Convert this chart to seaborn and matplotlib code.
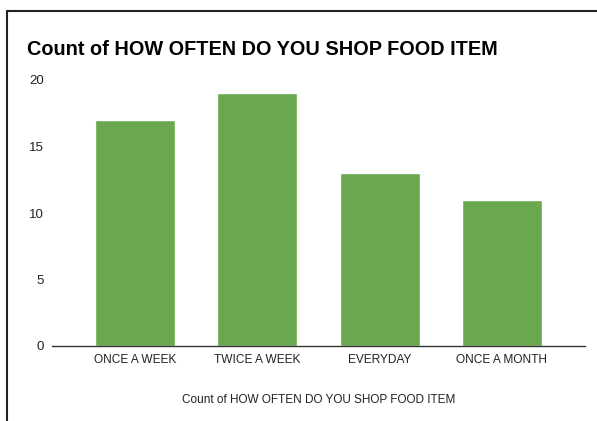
import matplotlib
matplotlib.use("Agg")
import matplotlib.pyplot as plt
import seaborn as sns
import pandas as pd
from matplotlib.lines import Line2D

categories = ["ONCE A WEEK", "TWICE A WEEK", "EVERYDAY", "ONCE A MONTH"]
counts = [17, 19, 13, 11]
yticks = [0, 5, 10, 15, 20]
title = "Count of HOW OFTEN DO YOU SHOP FOOD ITEM"
xlabel = "Count of HOW OFTEN DO YOU SHOP FOOD ITEM"

sns.set_style("white")
plt.rcParams["font.family"] = ["Liberation Sans", "DejaVu Sans"]

df = pd.DataFrame({"cat": categories, "count": counts})

fig = plt.figure(figsize=(5.97, 4.21), dpi=100)
ax = fig.add_axes([52/597, 1-346/421, (585-52)/597, (346-80)/421])
sns.barplot(data=df, x="cat", y="count", color="#6aa84f", saturation=1,
            width=0.656, ax=ax)
ax.set_xlim(-0.68, 3.68)
ax.set_ylim(0, 20)
ax.set_yticks(yticks)
ax.set_yticklabels([str(t) for t in yticks], fontsize=9.5, color="#222222")
ax.tick_params(axis="y", length=0, pad=6)
ax.tick_params(axis="x", length=0, pad=6, labelsize=8.6, labelcolor="#222222")
for s in ["top", "right", "left"]:
    ax.spines[s].set_visible(False)
ax.spines["bottom"].set_color("#333333")
ax.spines["bottom"].set_linewidth(1.0)
ax.set_ylabel("")
ax.set_xlabel(xlabel, fontsize=8.5, color="#222222", labelpad=20)

fig.text(27/597, 1-55/421, title, fontsize=14.3, fontweight="bold",
         color="black", ha="left", va="baseline")

# border lines
fig.add_artist(Line2D([7/597, 7/597], [0, 1-11/421], transform=fig.transFigure,
                      color="#222222", linewidth=1.5))
fig.add_artist(Line2D([7/597, 1], [1-11/421, 1-11/421], transform=fig.transFigure,
                      color="#222222", linewidth=1.5))

fig.savefig("out.png", dpi=100)
